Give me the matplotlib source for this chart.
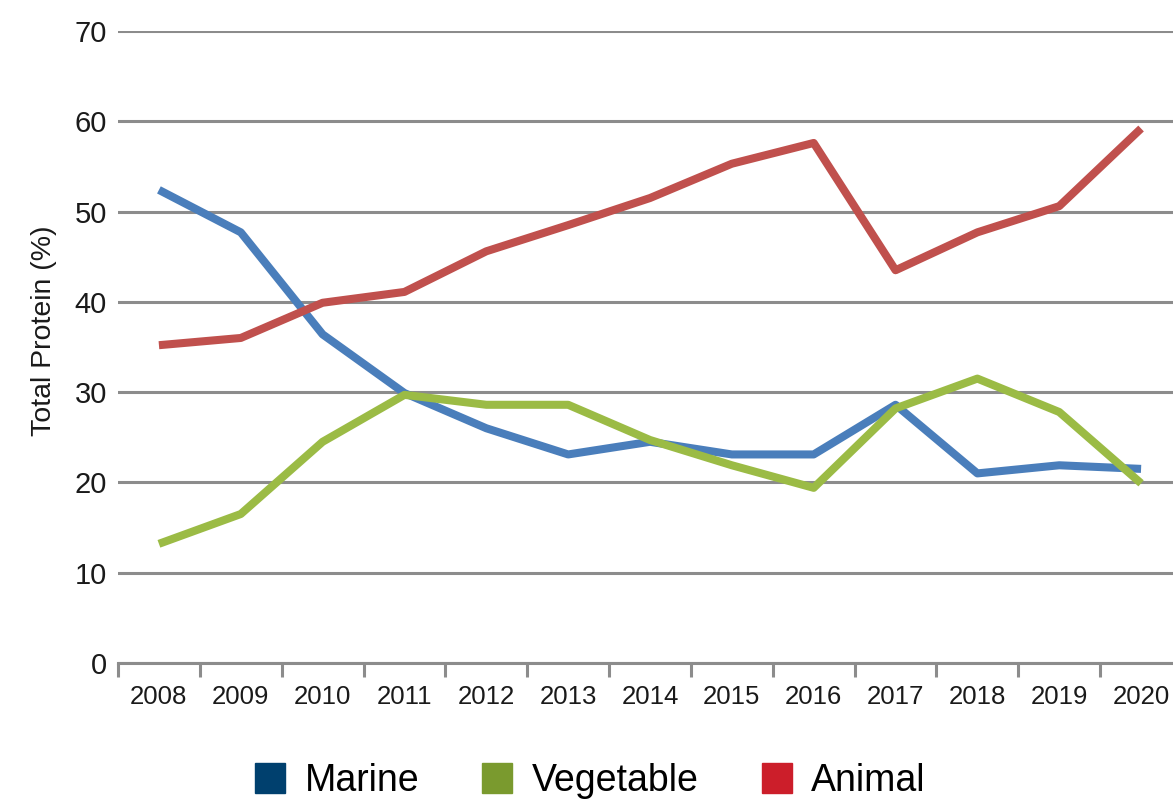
"Total protein share by source, 2008-2020."
import matplotlib
matplotlib.use("Agg")
import matplotlib.pyplot as plt
from matplotlib.lines import Line2D

years = ["2008", "2009", "2010", "2011", "2012", "2013", "2014",
         "2015", "2016", "2017", "2018", "2019", "2020"]
marine = [52.4, 47.7, 36.4, 29.9, 26.0, 23.1, 24.5, 23.1, 23.1, 28.6, 21.0, 21.9, 21.5]
vegetable = [13.2, 16.5, 24.5, 29.7, 28.6, 28.6, 24.7, 21.9, 19.4, 28.2, 31.5, 27.8, 19.9]
animal = [35.2, 36.0, 39.9, 41.1, 45.6, 48.5, 51.5, 55.3, 57.6, 43.5, 47.7, 50.6, 59.2]

series = [
    ("Marine", marine, "#4a7ebb", "#00406e"),
    ("Vegetable", vegetable, "#9bbb45", "#7a9a2e"),
    ("Animal", animal, "#c0504d", "#cc1e2a"),
]

plt.rcParams["font.family"] = ["Liberation Sans", "DejaVu Sans"]
grid_col = "#8c8c8c"

fig = plt.figure(figsize=(11.73, 7.99), dpi=100)
ax = fig.add_axes([118 / 1173, 1 - 663 / 799, (1182 - 118) / 1173, (663 - 31) / 799])

x = list(range(len(years)))
for name, vals, col, _ in series:
    ax.plot(x, vals, color=col, lw=5.8, solid_capstyle="butt", solid_joinstyle="round",
            zorder=3)

ax.set_ylim(0, 70)
ax.set_xlim(-0.5, len(years) - 0.5)
ax.set_yticks(range(0, 71, 10))
ax.yaxis.grid(True, color=grid_col, lw=2.2)
ax.set_axisbelow(True)
for s in ["top", "right", "left"]:
    ax.spines[s].set_visible(False)
ax.spines["bottom"].set_color(grid_col)
ax.spines["bottom"].set_linewidth(2.2)

ax.set_xticks(x)
ax.set_xticklabels(years, fontsize=18.5, color="#1a1a1a")
ax.set_xticks([i - 0.5 for i in range(len(years) + 1)], minor=True)
ax.tick_params(axis="x", which="major", length=0, pad=16)
ax.tick_params(axis="x", which="minor", length=10, width=2.2, color=grid_col)
ax.tick_params(axis="y", length=0, pad=8, labelsize=21, labelcolor="#1a1a1a")

ax.set_ylabel("Total Protein (%)", fontsize=20.5, color="#1a1a1a")
ax.yaxis.set_label_coords(-0.057, 0.525)

handles = [Line2D([], [], marker="s", ls="none", markersize=22,
                  markerfacecolor=lc, markeredgecolor=lc) for _, _, _, lc in series]
fig.legend(handles, [s[0] for s in series], loc="center", bbox_to_anchor=(0.503, 0.022),
           ncol=3, frameon=False, fontsize=27, handlelength=0.85, handletextpad=0.5,
           columnspacing=1.65)

fig.savefig("out.png", dpi=100)
